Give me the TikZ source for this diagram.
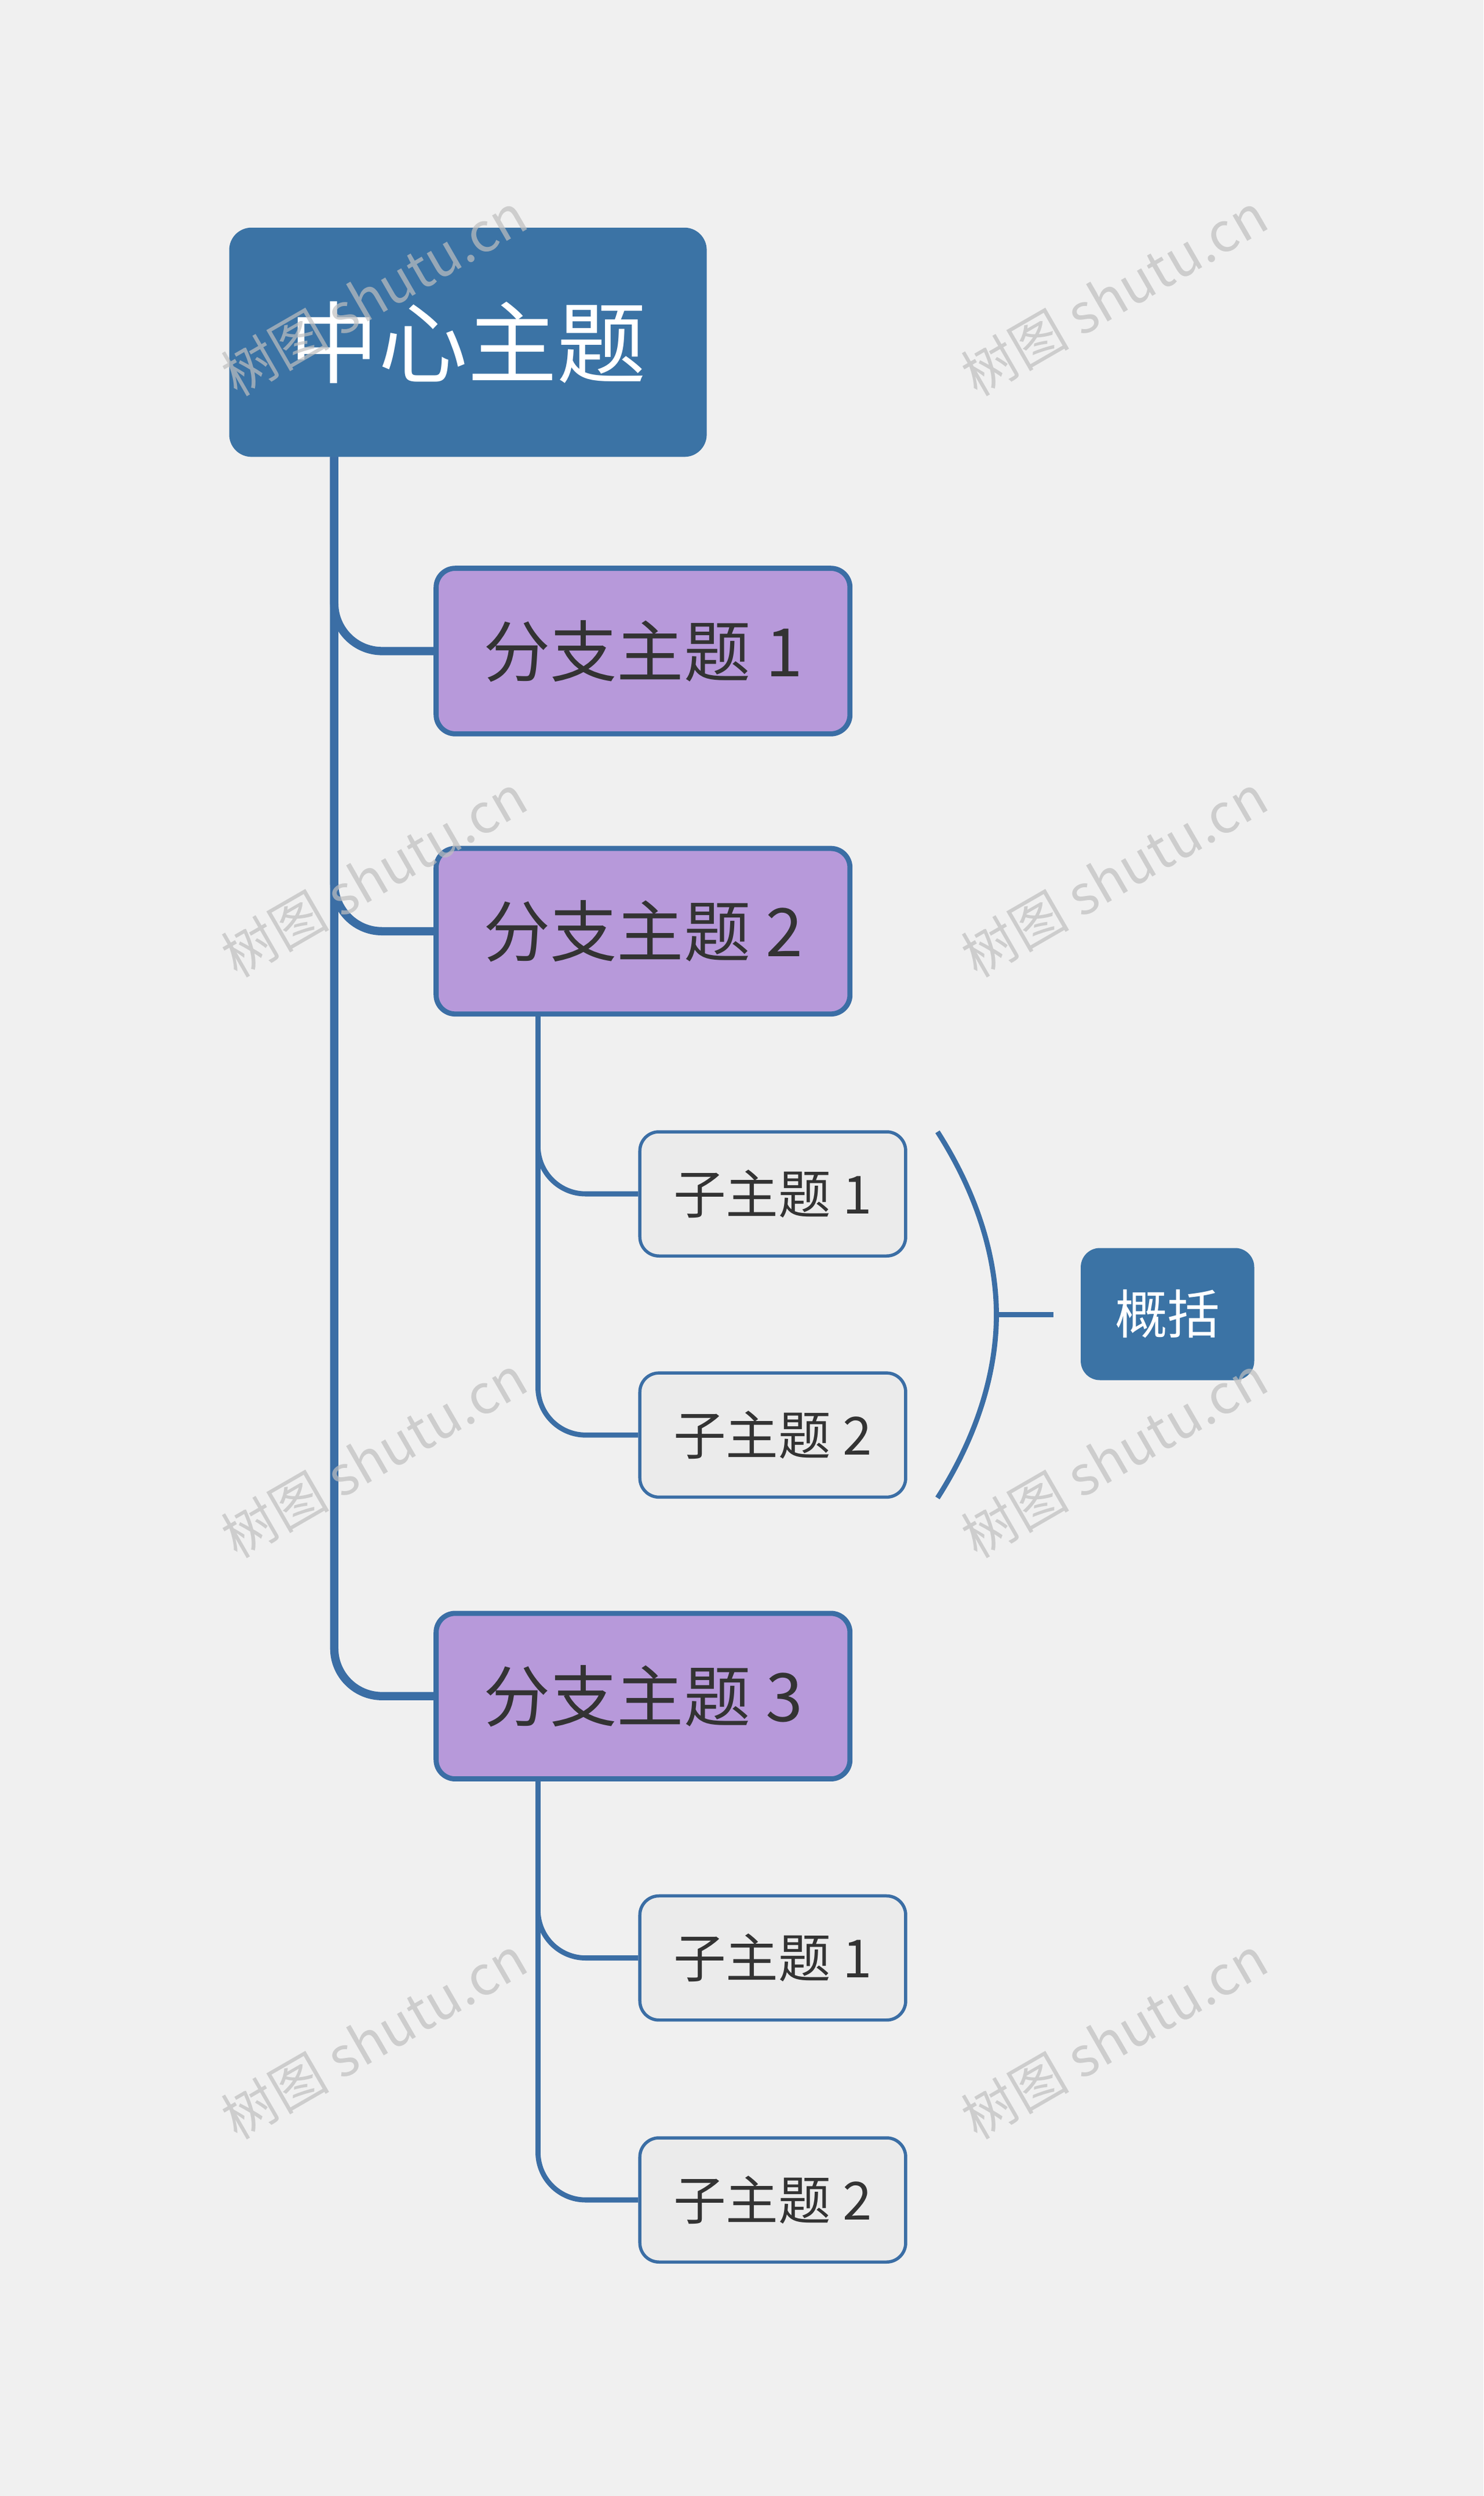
\documentclass[tikz,border=0pt]{standalone}
\usepackage{fontspec}
\setmainfont{Noto Sans CJK SC}
\newfontfamily\wmfont{Noto Sans CJK SC}
\definecolor{bg}{HTML}{F0F0F0}
\definecolor{navy}{HTML}{3B73A5}
\definecolor{lin}{HTML}{3B6EA5}
\definecolor{purp}{HTML}{B799DA}
\definecolor{subf}{HTML}{EBEBEB}
\definecolor{txt}{HTML}{333333}
\begin{document}
\begin{tikzpicture}[x=0.5pt,y=-0.5pt,
 root/.style={fill=navy,rounded corners=7pt,minimum width=150pt,minimum height=72pt,text=white,font=\fontsize{28}{30}\selectfont,inner sep=0pt},
 branch/.style={fill=purp,draw=lin,line width=1.6pt,rounded corners=6pt,minimum width=130pt,minimum height=52pt,text=txt,font=\fontsize{21}{24}\selectfont,inner sep=0pt},
 sub/.style={fill=subf,draw=lin,line width=1pt,rounded corners=6pt,minimum width=83.5pt,minimum height=39pt,text=txt,font=\fontsize{16.5}{19}\selectfont,inner sep=0pt},
 summ/.style={fill=navy,rounded corners=6pt,minimum width=54.5pt,minimum height=41.5pt,text=white,font=\fontsize{16.5}{19}\selectfont,inner sep=0pt},
 trunk/.style={draw=lin,line width=2.6pt,rounded corners=15pt},
 twig/.style={draw=lin,line width=1.6pt,rounded corners=15pt},
 wm/.style={text=black!25,opacity=0.7,rotate=30,font=\wmfont\fontsize{17}{19}\selectfont}]
\fill[bg] (0,0) rectangle (932,1568);
\node[root] (c) at (294,215) {中心主题};
\node[branch] (b1) at (404,409) {分支主题 1};
\node[branch] (b2) at (404,585) {分支主题 2};
\node[branch] (b3) at (404,1065.5) {分支主题 3};
\node[sub] (s1) at (485.5,750) {子主题 1};
\node[sub] (s2) at (485.5,901.5) {子主题 2};
\node[sub] (s3) at (485.5,1230) {子主题 1};
\node[sub] (s4) at (485.5,1382) {子主题 2};
\node[summ] (sm) at (733.5,825.5) {概括};
\coordinate (ct) at (210,287);
\coordinate (bt2) at (338,637);
\coordinate (bt3) at (338,1117);
\foreach \b in {b1,b2,b3} \path[trunk] (ct) |- (\b.west);
\foreach \s in {s1,s2} \path[twig] (bt2) |- (\s.west);
\foreach \s in {s3,s4} \path[twig] (bt3) |- (\s.west);
\coordinate (bra) at (589,711);
\coordinate (brb) at (589,941);
\coordinate (brm) at (626,826);
\coordinate (bre) at (662,826);
\draw[lin,line width=1.6pt] (bra) .. controls (614,750) and (626,790) .. (brm) .. controls (626,862) and (614,902) .. (brb);
\draw[lin,line width=1.6pt] (brm) -- (bre);
\foreach \x in {235,700} \foreach \y in {185,550,915,1280}
  \node[wm] at (\x,\y) {树图 shutu.cn};
\end{tikzpicture}
\end{document}
